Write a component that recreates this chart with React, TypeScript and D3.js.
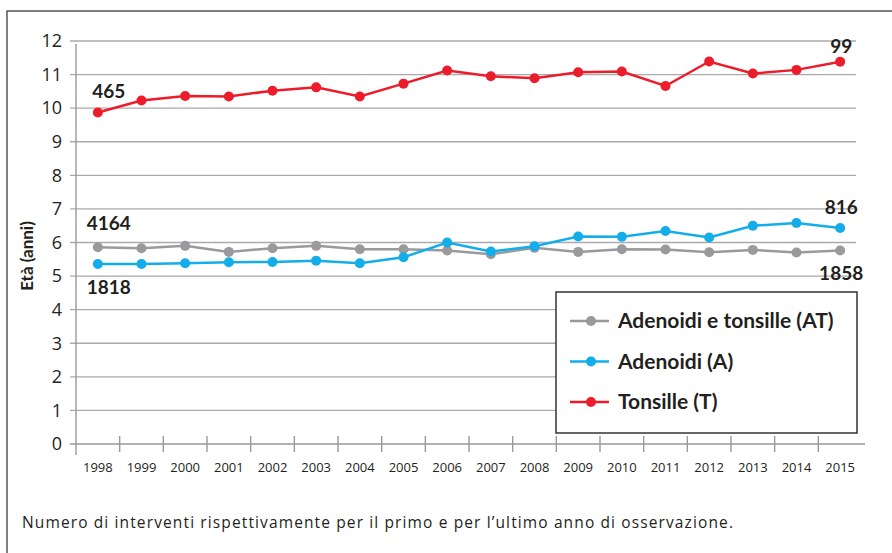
import React from 'react'
import * as d3 from 'd3'

const years = ['1998', '1999', '2000', '2001', '2002', '2003', '2004', '2005', '2006', '2007', '2008', '2009', '2010', '2011', '2012', '2013', '2014', '2015']
const adenoTonsille = [5.86, 5.83, 5.9, 5.72, 5.83, 5.9, 5.8, 5.8, 5.76, 5.65, 5.84, 5.72, 5.8, 5.79, 5.71, 5.78, 5.7, 5.76]
const adenoidi = [5.36, 5.36, 5.38, 5.41, 5.42, 5.46, 5.38, 5.56, 6.0, 5.73, 5.89, 6.18, 6.17, 6.34, 6.15, 6.5, 6.58, 6.43]
const tonsille = [9.87, 10.23, 10.36, 10.35, 10.52, 10.62, 10.35, 10.73, 11.12, 10.95, 10.89, 11.07, 11.09, 10.66, 11.39, 11.03, 11.14, 11.38]
const yTicks = [0, 1, 2, 3, 4, 5, 6, 7, 8, 9, 10, 11, 12]

const seriesList = [
  { name: 'Adenoidi e tonsille (AT)', values: adenoTonsille, color: '#9a9a9c', first: '4164', last: '1858' },
  { name: 'Adenoidi (A)', values: adenoidi, color: '#13aee9', first: '1818', last: '816' },
  { name: 'Tonsille (T)', values: tonsille, color: '#ec1c2b', first: '465', last: '99' }
]

const boldFont = 'Lato, "DejaVu Sans", sans-serif'
const plainFont = '"Open Sans", "DejaVu Sans", sans-serif'
const ink = '#231f20'

const App: React.FC = () => {
  const width = 892
  const height = 553

  const x = d3.scaleBand<string>().domain(years).range([76, 862])
  const y = d3.scaleLinear().domain([0, 12]).range([444, 41])
  const cx = (yr: string) => (x(yr) || 0) + x.bandwidth() / 2

  const line = d3.line<number>()
    .x((_, i) => cx(years[i]))
    .y(d => y(d))

  const first = years[0]
  const last = years[years.length - 1]

  // offsets of the first / last year counts, per series
  const firstDy = [-17, 30, -15]
  const lastDy = [29, -14, -9]

  return (
    <svg width={width} height={height} style={{ position: 'absolute', left: 0, top: 0, background: '#fff' }}>
      {/* frame */}
      <path d={`M7,${height}V11H${width}`} fill="none" stroke="#555" strokeWidth={1.5} />

      {/* grid + y labels */}
      {yTicks.map(t => (
        <g key={t}>
          {t > 0 && <line x1={70} x2={856} y1={y(t)} y2={y(t)} stroke="#aaa" strokeWidth={1.4} />}
          <text x={62} y={y(t)} dy="0.35em" textAnchor="end" fontSize={18} fontFamily={plainFont} fill={ink}>{t}</text>
        </g>
      ))}

      {/* axes */}
      <line x1={76} x2={76} y1={44} y2={455} stroke="#999" strokeWidth={1.4} />
      <line x1={70} x2={865} y1={y(0)} y2={y(0)} stroke="#999" strokeWidth={1.4} />
      {years.slice(1).map(yr => (
        <line key={yr} x1={x(yr)} x2={x(yr)} y1={436} y2={452} stroke="#999" strokeWidth={1.4} />
      ))}
      {years.map(yr => (
        <text key={yr} x={cx(yr)} y={472} textAnchor="middle" fontSize={13} fontFamily={plainFont} fill={ink}>{yr}</text>
      ))}

      <text transform="translate(33,256) rotate(-90)" textAnchor="middle" fontSize={17} fontWeight="bold" fontFamily={boldFont} fill={ink}>Età (anni)</text>

      {/* series */}
      {seriesList.map((s, si) => (
        <g key={s.name}>
          <path d={line(s.values) || ''} fill="none" stroke={s.color} strokeWidth={2.5} />
          {s.values.map((v, i) => (
            <circle key={i} cx={cx(years[i])} cy={y(v)} r={5} fill={s.color} />
          ))}
          <text x={cx(first) + 11} y={y(s.values[0]) + firstDy[si]} textAnchor="middle" fontSize={19} fontWeight="bold" fontFamily={boldFont} fill={ink}>{s.first}</text>
          <text x={cx(last) + 1} y={y(s.values[s.values.length - 1]) + lastDy[si]} textAnchor="middle" fontSize={19} fontWeight="bold" fontFamily={boldFont} fill={ink}>{s.last}</text>
        </g>
      ))}

      {/* legend */}
      <rect x={556} y={292} width={301} height={141} fill="#fff" stroke="#333" strokeWidth={1.5} />
      {seriesList.map((s, i) => (
        <g key={s.name} transform={`translate(570,${321 + i * 40.5})`}>
          <line x1={0} x2={39} y1={0} y2={0} stroke={s.color} strokeWidth={2.5} />
          <circle cx={21} cy={0} r={5} fill={s.color} />
          <text x={48} y={0} dy="0.35em" fontSize={21} fontWeight="bold" fontFamily={boldFont} fill={ink}>{s.name}</text>
        </g>
      ))}

      <text x={22} y={528} fontSize={15.5} fontFamily={plainFont} textLength={711} fill={ink}>Numero di interventi rispettivamente per il primo e per l’ultimo anno di osservazione.</text>
    </svg>
  )
}

export default App
